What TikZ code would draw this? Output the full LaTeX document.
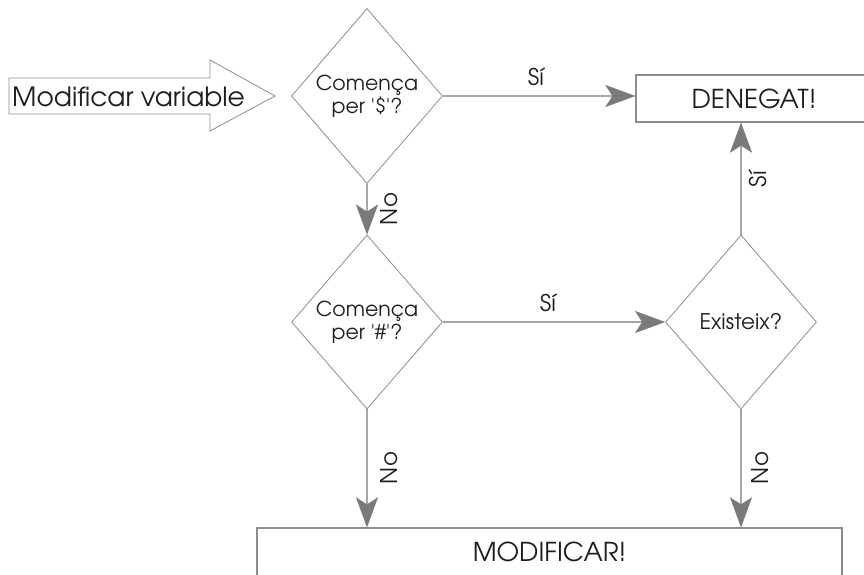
\documentclass[tikz,border=0pt]{standalone}
\usepackage{fontspec}
\setmainfont{TeX Gyre Adventor}
\usetikzlibrary{shapes.geometric,arrows.meta}

\definecolor{edgegray}{HTML}{8C8C8C}
\definecolor{linegray}{HTML}{A6A6A6}
\definecolor{tipgray}{HTML}{7A7A7A}
\definecolor{inkcol}{HTML}{1E1E1E}

\tikzset{
  decision/.style={diamond, draw=edgegray, line width=0.8pt, inner sep=0pt,
    minimum width=151pt, minimum height=175pt, align=center,
    font=\fontsize{20.5}{23}\selectfont, text=inkcol},
  outcome/.style={rectangle, draw=edgegray, line width=1.3pt, inner sep=0pt,
    font=\fontsize{26}{30}\selectfont, text=inkcol},
  flow/.style={draw=linegray, line width=1.2pt,
    -{Stealth[length=30pt, width=22pt, inset=7pt, color=tipgray, fill=tipgray, line width=0.4pt]}},
  tag/.style={font=\fontsize{23}{26}\selectfont, text=inkcol, inner sep=0pt},
}

\begin{document}
\begin{tikzpicture}[x=1pt, y=-1pt]
\useasboundingbox (0,0) rectangle (864,574);

% entry arrow
\draw[edgegray, line width=0.8pt, fill=white]
  (9,78) -- (210,78) -- (210,60) -- (275,96) -- (210,131) -- (210,114) -- (9,114) -- cycle;
\node[anchor=west, inner sep=0pt, text=inkcol, font=\fontsize{26.5}{30}\selectfont]
  (entry) at (12,97) {Modificar variable};

% decisions
\node[decision] (d1) at (367,96) {Comença\\per \textquotesingle\$\textquotesingle?};
\node[decision, minimum height=174pt] (d2) at (367,322) {Comença\\per \textquotesingle\#\textquotesingle?};
\node[decision, minimum height=174pt, font=\fontsize{21.5}{24}\selectfont] (d3) at (741,322) {Existeix?};

% outcomes
\node[outcome, minimum width=236pt, minimum height=47pt] (den) at (754,98.5) {DENEGAT!};
\node[outcome, minimum width=585pt, minimum height=48pt] (mod) at (549.5,552) {MODIFICAR!};

% connectors
\draw[flow] (d1.east) -- (d1.east -| den.west);
\draw[flow] (d1.south) -- (d2.north);
\draw[flow] (d2.east) -- (d3.west);
\draw[flow] (d3.north) -- (d3.north |- den.south);
\draw[flow] (d2.south) -- (d2.south |- mod.north);
\draw[flow] (d3.south) -- (d3.south |- mod.north);

% connector labels
\node[tag] (l1) at (536,77) {Sí};
\node[tag] (l2) at (548,303) {Sí};
\node[tag, rotate=90] (l3) at (389,209) {No};
\node[tag, rotate=90] (l4) at (389,468) {No};
\node[tag, rotate=90] (l5) at (760,468) {No};
\node[tag, rotate=90] (l6) at (758,179) {Sí};
\end{tikzpicture}
\end{document}
